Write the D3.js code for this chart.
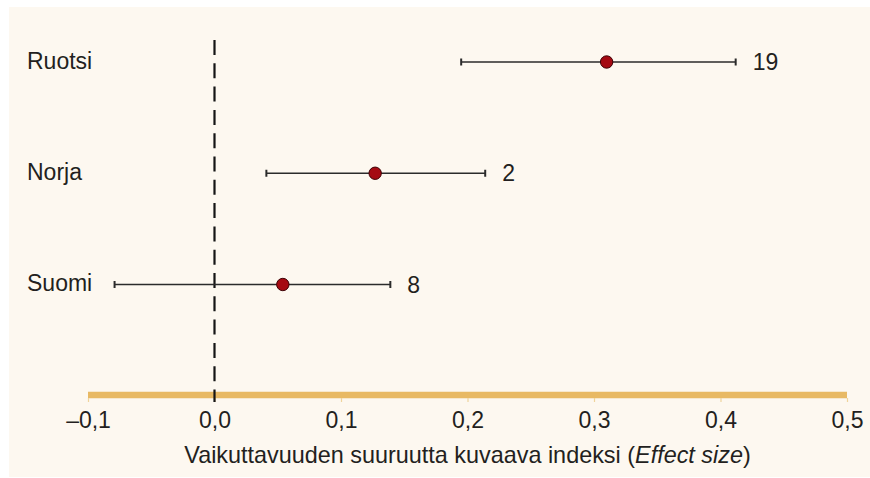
<!DOCTYPE html>
<html>
<head>
<meta charset="utf-8">
<script src="https://cdn.jsdelivr.net/npm/d3@7"></script>
<style>
  html, body { margin: 0; padding: 0; background: #ffffff; }
  svg { display: block; font-family: "Liberation Sans", Arial, sans-serif; }
</style>
</head>
<body>
<div id="chart"></div>
<script>
// Effect size forest plot (Nordic countries)

const countries = ['Ruotsi', 'Norja', 'Suomi'];
const estimates = [0.31, 0.127, 0.054];
const lower = [0.195, 0.041, -0.079];
const upper = [0.412, 0.214, 0.139];
const counts = [19, 2, 8];
const tickValues = [-0.1, 0, 0.1, 0.2, 0.3, 0.4, 0.5];

const width = 870, height = 478;
const colors = {
    panel: '#fdf8f0',
    axis: '#e8b964',
    tick: '#efd49c',
    text: '#231f20',
    line: '#2b2b2b',
    dot: '#a50a12',
    dotStroke: '#3d0205'
};

const fi = d3.formatLocale({
    decimal: ',', thousands: '\u00a0', grouping: [3],
    currency: ['', ' €'], minus: '\u2013'
});
const fmt = fi.format('.1f');

const svg = d3.select('#chart').append('svg')
    .attr('width', width)
    .attr('height', height);

// cream background panel
svg.append('rect')
    .attr('x', 9).attr('y', 7)
    .attr('width', width - 9).attr('height', 470)
    .attr('fill', colors.panel);

const x = d3.scaleLinear().domain([-0.1, 0.5]).range([88, 847]);
const y = d3.scalePoint().domain(countries).range([62, 284.5]);

const rows = countries.map((c, i) => ({
    name: c, est: estimates[i], lo: lower[i], hi: upper[i], n: counts[i]
}));

// axis band
const axisY = 395;
svg.append('line')
    .attr('x1', x(-0.1)).attr('x2', x(0.5))
    .attr('y1', axisY).attr('y2', axisY)
    .attr('stroke', colors.axis)
    .attr('stroke-width', 6.5);

// axis ticks + labels
const axis = d3.axisBottom(x)
    .tickValues(tickValues)
    .tickFormat(fmt)
    .tickSize(4);

const gAxis = svg.append('g')
    .attr('transform', `translate(0,${axisY + 3})`)
    .call(axis);
gAxis.select('.domain').remove();
gAxis.selectAll('.tick line').attr('stroke', colors.tick).attr('stroke-width', 1.2);
gAxis.selectAll('.tick text')
    .attr('fill', colors.text)
    .attr('font-size', '23px')
    .attr('dy', null)
    .attr('y', 30);

// zero reference line
svg.append('line')
    .attr('x1', x(0)).attr('x2', x(0))
    .attr('y1', 40).attr('y2', 402)
    .attr('stroke', '#151515')
    .attr('stroke-width', 2.2)
    .attr('stroke-dasharray', '15,8.3');

// country labels
svg.selectAll('.country')
    .data(rows)
    .join('text')
    .attr('class', 'country')
    .attr('x', 27)
    .attr('y', d => y(d.name) + 6.5)
    .attr('fill', colors.text)
    .attr('font-size', '23px')
    .text(d => d.name);

// confidence intervals
const g = svg.selectAll('.row')
    .data(rows)
    .join('g')
    .attr('class', 'row')
    .attr('transform', d => `translate(0,${y(d.name)})`);

g.append('line')
    .attr('x1', d => x(d.lo)).attr('x2', d => x(d.hi))
    .attr('stroke', colors.line).attr('stroke-width', 1.4);

g.append('line')
    .attr('x1', d => x(d.lo)).attr('x2', d => x(d.lo))
    .attr('y1', -3.5).attr('y2', 3.5)
    .attr('stroke', colors.line).attr('stroke-width', 2);

g.append('line')
    .attr('x1', d => x(d.hi)).attr('x2', d => x(d.hi))
    .attr('y1', -3.5).attr('y2', 3.5)
    .attr('stroke', colors.line).attr('stroke-width', 2);

g.append('circle')
    .attr('cx', d => x(d.est))
    .attr('r', 6.2)
    .attr('fill', colors.dot)
    .attr('stroke', colors.dotStroke)
    .attr('stroke-width', 1);

g.append('text')
    .attr('x', d => x(d.hi) + 17)
    .attr('y', 8)
    .attr('fill', colors.text)
    .attr('font-size', '23px')
    .text(d => d.n);

// axis title
const title = svg.append('text')
    .attr('x', (x(-0.1) + x(0.5)) / 2)
    .attr('y', 462.5)
    .attr('text-anchor', 'middle')
    .attr('fill', colors.text)
    .attr('font-size', '23.4px');
title.append('tspan').text('Vaikuttavuuden suuruutta kuvaava indeksi (');
title.append('tspan').attr('font-style', 'italic').text('Effect size');
title.append('tspan').text(')');
</script>
</body>
</html>
